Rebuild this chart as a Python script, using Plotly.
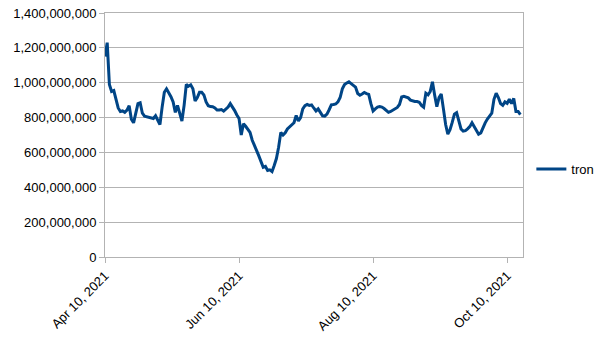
import datetime as dt
import plotly.graph_objects as go

# Daily tron series, starting 2021-04-10 (values in millions)
start_date = "2021-04-10"
tron_millions = [
    1150, 1230, 990, 950, 955, 895, 855, 835, 838, 830,
    843, 868, 790, 770, 830, 880, 885, 825, 808, 805,
    800, 800, 795, 810, 788, 760, 860, 945, 965, 945,
    920, 890, 830, 870, 825, 780, 870, 990, 980, 988,
    965, 895, 915, 945, 945, 930, 890, 868, 863, 862,
    855, 843, 843, 846, 837, 850, 860, 880, 862, 840,
    815, 795, 700, 765, 750, 735, 715, 670, 635, 610,
    580, 545, 515, 520, 496, 500, 490, 525, 565, 630,
    715, 700, 713, 735, 745, 755, 770, 812, 780, 800,
    850, 868, 875, 870, 873, 855, 838, 850, 826, 810,
    808, 820, 845, 873, 875, 878, 890, 915, 965, 990,
    998, 1005, 995, 985, 975, 938, 928, 935, 944, 938,
    933, 880, 838, 850, 860, 863, 860, 852, 840, 830,
    835, 842, 852, 858, 875, 918, 922, 918, 913, 900,
    894, 892, 892, 888, 870, 860, 940, 930, 950, 1005,
    930, 862, 915, 935, 850, 760, 705, 730, 772, 820,
    828, 785, 735, 722, 725, 735, 748, 770, 748, 725,
    705, 712, 745, 770, 792, 810, 825, 905, 940, 915,
    880, 870, 890, 882, 905, 880, 910, 835, 835, 817,
]

y_ticks = [0, 200e6, 400e6, 600e6, 800e6, 1000e6, 1200e6, 1400e6]
x_ticks = ["2021-04-10", "2021-06-10", "2021-08-10", "2021-10-10"]
x_tick_labels = ["Apr 10, 2021", "Jun 10, 2021", "Aug 10, 2021", "Oct 10, 2021"]

t0 = dt.date.fromisoformat(start_date)
dates = [t0 + dt.timedelta(days=i) for i in range(len(tron_millions))]
values = [v * 1e6 for v in tron_millions]

fig = go.Figure()
fig.add_trace(go.Scatter(
    x=dates, y=values, mode="lines", name="tron",
    line=dict(color="#004586", width=3),
))

grid = "#b3b3b3"
fig.update_layout(
    width=605, height=340,
    margin=dict(l=105, r=82, t=13, b=83, autoexpand=False),
    paper_bgcolor="white", plot_bgcolor="white",
    font=dict(family="Liberation Sans, Arial, sans-serif", size=13, color="#000000"),
    showlegend=True,
    legend=dict(x=1.02, xanchor="left", y=0.36, yanchor="middle",
                font=dict(size=13), bgcolor="rgba(0,0,0,0)"),
    xaxis=dict(
        type="date", automargin=False,
        range=["2021-04-10", "2021-10-17 05:00"],
        tickmode="array", tickvals=x_ticks, ticktext=x_tick_labels,
        tickangle=-45, ticks="outside", ticklen=5, tickcolor=grid,
        showgrid=False, showline=True, linecolor=grid, linewidth=1,
        mirror=True, zeroline=False,
    ),
    yaxis=dict(
        range=[0, 1400e6], automargin=False,
        tickmode="array", tickvals=y_ticks, tickformat=",d",
        ticks="outside", ticklen=5, tickcolor=grid,
        showgrid=True, gridcolor=grid, gridwidth=1,
        showline=True, linecolor=grid, linewidth=1, mirror=True,
        zeroline=False,
    ),
)

fig.write_html("out.html")
